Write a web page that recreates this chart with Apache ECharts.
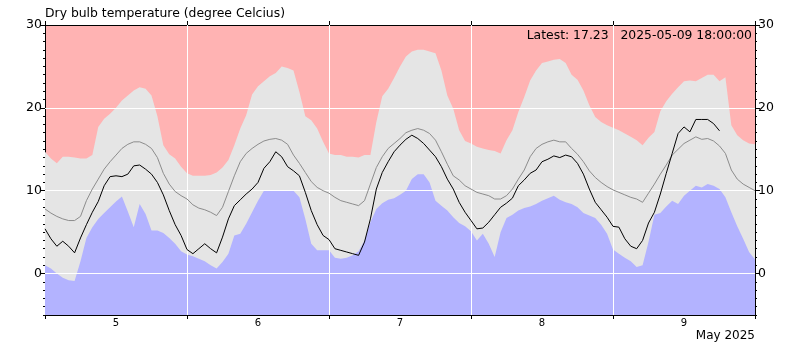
<!DOCTYPE html>
<html>
<head>
<meta charset="utf-8">
<script src="https://cdn.jsdelivr.net/npm/echarts@6/dist/echarts.min.js"></script>
<style>
  html, body { margin: 0; padding: 0; background: #ffffff; }
  #chart { width: 800px; height: 350px; }
</style>
</head>
<body>
<div id="chart"></div>
<script>
// Hourly dry bulb temperatures, 5 May 00:00 to 10 May 00:00 2025 (index = hour)
const recordHigh = [
  14.7, 13.9, 13.3, 14.1, 14.1, 14.0, 13.9, 13.9, 14.3, 17.7, 18.7, 19.3, 20.0, 20.9, 21.5, 22.1, 22.5, 22.3, 21.5, 19.0, 15.5, 14.4, 13.9, 12.9,
  12.1, 11.8, 11.8, 11.8, 11.9, 12.2, 12.8, 13.7, 15.5, 17.5, 19.1, 21.6, 22.6, 23.2, 23.8, 24.2, 25.0, 24.8, 24.5, 21.9, 19.0, 18.5, 17.5, 15.9,
  14.5, 14.3, 14.3, 14.1, 14.1, 14.0, 14.3, 14.3, 18.3, 21.4, 22.3, 23.6, 25.0, 26.2, 26.8, 27.0, 27.0, 26.8, 26.6, 24.5, 21.5, 19.9, 17.3, 16.0,
  15.7, 15.3, 15.1, 14.9, 14.8, 14.5, 16.1, 17.3, 19.5, 21.3, 23.3, 24.5, 25.4, 25.6, 25.8, 25.9, 25.4, 24.0, 23.4, 22.1, 20.3, 18.9, 18.3, 17.9,
  17.6, 17.3, 16.9, 16.5, 16.1, 15.5, 16.4, 17.1, 19.6, 20.8, 21.7, 22.5, 23.2, 23.3, 23.2, 23.6, 24.0, 24.0, 23.2, 23.7, 17.9, 16.7, 16.1, 15.7,
  15.6
];
const recordLow = [
  1.0, 0.6, 0.0, -0.5, -0.8, -0.9, 1.5, 4.3, 5.6, 6.6, 7.3, 8.0, 8.7, 9.3, 7.5, 5.6, 8.4, 7.2, 5.2, 5.2, 4.9, 4.3, 3.6, 2.7,
  2.3, 2.1, 1.8, 1.5, 1.0, 0.6, 1.4, 2.4, 4.6, 4.8, 6.0, 7.4, 8.8, 10.0, 10.0, 10.0, 10.1, 10.0, 10.0, 9.2, 6.6, 3.6, 2.8, 2.8,
  2.8, 1.9, 1.8, 1.9, 2.2, 2.7, 4.0, 6.2, 7.8, 8.5, 8.9, 9.1, 9.5, 10.0, 11.4, 12.0, 12.0, 11.0, 8.8, 8.2, 7.6, 6.8, 6.1, 5.7,
  5.1, 4.0, 4.8, 3.6, 2.0, 5.0, 6.7, 7.1, 7.6, 7.9, 8.1, 8.4, 8.8, 9.1, 9.4, 8.9, 8.6, 8.4, 8.0, 7.3, 7.0, 6.7, 5.9, 4.8,
  2.9, 2.4, 1.9, 1.5, 0.8, 1.0, 3.8, 7.1, 7.3, 8.1, 8.8, 8.4, 9.4, 10.0, 10.6, 10.4, 10.8, 10.6, 10.2, 9.2, 7.4, 5.7, 4.2, 2.6,
  1.7
];
const normal = [
  7.8, 7.3, 6.9, 6.6, 6.4, 6.4, 6.9, 8.8, 10.2, 11.4, 12.6, 13.5, 14.3, 15.1, 15.6, 15.9, 15.9, 15.6, 15.1, 14.0, 12.1, 10.8, 9.9, 9.4,
  9.0, 8.3, 7.9, 7.7, 7.4, 7.0, 8.0, 9.9, 11.8, 13.5, 14.5, 15.1, 15.6, 16.0, 16.2, 16.3, 16.1, 15.6, 14.3, 13.3, 12.2, 11.1, 10.4, 10.0,
  9.7, 9.2, 8.8, 8.6, 8.4, 8.2, 8.8, 10.8, 12.8, 14.1, 15.1, 15.7, 16.3, 17.0, 17.3, 17.5, 17.3, 16.9, 16.1, 14.7, 13.2, 11.8, 11.3, 10.6,
  10.2, 9.8, 9.6, 9.4, 9.0, 9.0, 9.4, 10.2, 11.4, 12.5, 14.1, 15.1, 15.6, 15.9, 16.1, 15.9, 15.9, 15.1, 14.4, 13.5, 12.4, 11.6, 11.0, 10.5,
  10.1, 9.8, 9.5, 9.2, 9.0, 8.6, 9.7, 10.8, 12.0, 13.1, 14.3, 15.0, 15.7, 16.1, 16.5, 16.2, 16.3, 16.0, 15.4, 14.5, 12.5, 11.4, 10.8, 10.4,
  10.0
];
const observed = [
  5.4, 4.2, 3.3, 3.9, 3.3, 2.5, 4.3, 5.9, 7.4, 8.7, 10.6, 11.7, 11.8, 11.7, 12.0, 13.0, 13.1, 12.6, 12.0, 11.0, 9.5, 7.6, 5.9, 4.6,
  2.9, 2.4, 3.0, 3.6, 3.0, 2.5, 4.4, 6.6, 8.2, 8.9, 9.6, 10.2, 11.0, 12.7, 13.5, 14.7, 14.1, 12.9, 12.4, 11.8, 9.8, 7.6, 5.9, 4.6,
  4.1, 3.0, 2.8, 2.6, 2.4, 2.2, 3.8, 6.6, 10.2, 12.2, 13.5, 14.7, 15.5, 16.2, 16.7, 16.3, 15.7, 14.9, 14.1, 12.9, 11.4, 10.2, 8.6, 7.4,
  6.4, 5.4, 5.5, 6.2, 7.1, 8.0, 8.5, 9.1, 10.6, 11.3, 12.1, 12.5, 13.5, 13.8, 14.2, 14.0, 14.3, 14.1, 13.3, 12.0, 10.2, 8.6, 7.7, 6.8,
  5.7, 5.6, 4.2, 3.3, 3.0, 4.0, 6.1, 7.4, 9.6, 12.1, 14.5, 16.9, 17.7, 17.1, 18.6, 18.6, 18.6, 18.1, 17.23
];
const latestTime = '2025-05-09 18:00:00';

// Axis marks
const dayBoundaries = [0, 24, 48, 72, 96, 120];   // hours since 5 May 00:00
const dayCentres = [12, 36, 60, 84, 108];
const dayNumbers = ['5', '6', '7', '8', '9'];
const yMajor = [0, 10, 20, 30];
const yMinor = [];
for (let v = -5; v <= 30; v++) yMinor.push(v);
const monthLabel = 'May 2025';
const titleText = 'Dry bulb temperature (degree Celcius)';

const toPairs = arr => arr.map((v, i) => [i, v]);
const latestValue = observed[observed.length - 1];

const FONT = 'DejaVu Sans';
const Y_MIN = -5, Y_MAX = 30, X_MIN = 0, X_MAX = 120;

function yAxisDef(position, ticks, len, labels) {
  return {
    type: 'value', position, min: Y_MIN, max: Y_MAX,
    axisLine: { show: true, onZero: false, lineStyle: { color: '#000', width: 1 } },
    axisTick: { show: true, length: len, inside: false, customValues: ticks, lineStyle: { color: '#000', width: 1 } },
    axisLabel: labels
      ? { show: true, customValues: yMajor, color: '#000', fontFamily: FONT, fontSize: 12.5, margin: 3 }
      : { show: false },
    splitLine: { show: false }
  };
}

function xAxisDef(position, withLabels) {
  return {
    type: 'value', position, min: X_MIN, max: X_MAX,
    axisLine: { show: true, onZero: false, lineStyle: { color: '#000', width: 1 } },
    axisTick: { show: true, length: 4, customValues: dayBoundaries, lineStyle: { color: '#000', width: 1 } },
    axisLabel: withLabels
      ? {
          show: true, customValues: dayCentres, color: '#000', fontFamily: FONT, fontSize: 10, margin: 3,
          formatter: v => dayNumbers[dayCentres.indexOf(v)] || ''
        }
      : { show: false },
    splitLine: { show: false }
  };
}

const chart = echarts.init(document.getElementById('chart'), null, { renderer: 'canvas' });

chart.setOption({
  animation: false,
  backgroundColor: '#ffffff',
  title: [
    { text: titleText, left: 45, top: 8, textStyle: { fontFamily: FONT, fontSize: 12.4, fontWeight: 'normal', color: '#000' }, padding: 0 },
    { text: 'Latest: ' + latestValue.toFixed(2) + '   ' + latestTime, right: 48, top: 30,
      textStyle: { fontFamily: FONT, fontSize: 12.4, fontWeight: 'normal', color: '#000' }, padding: 0 },
    { text: monthLabel, right: 45, top: 330, textStyle: { fontFamily: FONT, fontSize: 12, fontWeight: 'normal', color: '#000' }, padding: 0 }
  ],
  grid: { left: 45, right: 45, top: 25, bottom: 35, show: true, backgroundColor: '#ffb3b3', borderWidth: 0 },
  xAxis: [xAxisDef('bottom', true), xAxisDef('top', false)],
  yAxis: [
    yAxisDef('left', yMinor, 2, true),
    yAxisDef('left', yMajor, 5, false),
    yAxisDef('right', yMinor, 2, true),
    yAxisDef('right', yMajor, 5, false)
  ],
  series: [
    {
      name: 'High', type: 'line', data: toPairs(recordHigh), symbol: 'none', z: 2,
      lineStyle: { width: 0 }, areaStyle: { color: '#e5e5e5', opacity: 1, origin: 'start' }
    },
    {
      name: 'Low', type: 'line', data: toPairs(recordLow), symbol: 'none', z: 3,
      lineStyle: { width: 0 }, areaStyle: { color: '#b3b3ff', opacity: 1, origin: 'start' },
      markLine: {
        silent: true, symbol: 'none', label: { show: false }, z: 4, animation: false,
        lineStyle: { color: '#ffffff', width: 1, type: 'solid' },
        emphasis: { disabled: true },
        data: [
          ...yMajor.filter(v => v > Y_MIN && v < Y_MAX).map(v => ({ yAxis: v })),
          ...dayBoundaries.filter(v => v > X_MIN && v < X_MAX).map(v => ({ xAxis: v }))
        ]
      }
    },
    {
      name: 'Normal', type: 'line', data: toPairs(normal), symbol: 'none', z: 6,
      lineStyle: { color: '#8c8c8c', width: 1 }
    },
    {
      name: 'Observed', type: 'line', data: toPairs(observed), symbol: 'none', z: 7,
      lineStyle: { color: '#000000', width: 1 }
    }
  ]
});
</script>
</body>
</html>
